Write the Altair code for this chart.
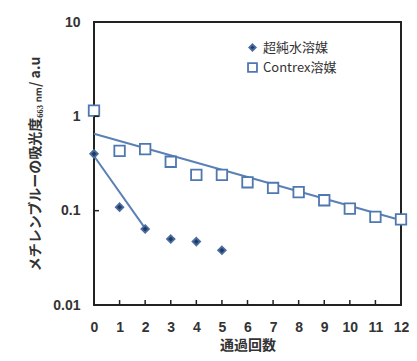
import altair as alt
import pandas as pd

passes = list(range(13))
contrex = [1.15, 0.43, 0.45, 0.33, 0.24, 0.24, 0.20, 0.174, 0.157, 0.129, 0.105, 0.086, 0.081]
pure_x = [0, 1, 2, 3, 4, 5]
pure = [0.40, 0.109, 0.064, 0.050, 0.047, 0.038]

fit_contrex_x = [0, 12]
fit_contrex_y = [0.655, 0.079]
fit_pure_x = [0, 2]
fit_pure_y = [0.38, 0.065]

x_ticks = list(range(1, 12))
y_ticks = [0.1, 1]

series_names = ["超純水溶媒", "Contrex溶媒"]

pts = pd.DataFrame(
    {"x": pure_x + passes,
     "y": pure + contrex,
     "s": [series_names[0]] * len(pure) + [series_names[1]] * len(contrex)}
)
fits = pd.DataFrame(
    {"x": fit_pure_x + fit_contrex_x,
     "y": fit_pure_y + fit_contrex_y,
     "s": ["p", "p", "c", "c"]}
)

W, H = 307, 283
font = "Liberation Sans"
jp = "Noto Sans CJK JP"

xs = alt.Scale(domain=[0, 12], nice=False)
ys = alt.Scale(type="log", domain=[0.01, 10], nice=False)

x_axis = alt.Axis(
    values=passes, ticks=False, domain=False, grid=False, labelFont=font,
    labelFontSize=14, labelFontWeight="bold", labelColor="#333333", labelPadding=15,
    labelOverlap=False, labelFlush=False, tickCount=13,
    title="通過回数", titleFont=jp, titleFontSize=14, titleFontWeight="bold",
    titleColor="#333333", titlePadding=4)
y_axis = alt.Axis(
    values=[0.01, 0.1, 1, 10], format="~g", ticks=False, domain=False, grid=False,
    labelFont=font, labelFontSize=14, labelFontWeight="bold", labelColor="#333333",
    labelPadding=14, labelFlush=False, labelOverlap=False,
    title="メチレンブルーの吸光度₆₆₃ ₙₘ/ a.u", titleFont=jp,
    titleFontSize=14, titleFontWeight="bold", titleColor="#333333", titlePadding=10)

x_enc = alt.X("x:Q", scale=xs, axis=x_axis)
y_enc = alt.Y("y:Q", scale=ys, axis=y_axis)

line_color = "#5b80b5"

diamond_path = "M0,-0.72L0.72,0L0,0.72L-0.72,0Z"
square_path = "M-1,-1L1,-1L1,1L-1,1Z"

lines = alt.Chart(fits).mark_line(color=line_color, strokeWidth=2).encode(
    x=x_enc, y=y_enc, detail="s:N")

points = alt.Chart(pts).mark_point(size=110, strokeWidth=1.8, opacity=1).encode(
    x=x_enc, y=y_enc,
    shape=alt.Shape("s:N", scale=alt.Scale(domain=series_names, range=[diamond_path, square_path]),
                    title=None),
    fill=alt.Fill("s:N", scale=alt.Scale(domain=series_names, range=["#1f3a66", "white"]),
                  title=None),
    stroke=alt.Stroke("s:N", scale=alt.Scale(domain=series_names, range=["#4a6c9e", "#4f77b0"]),
                      title=None),
)

xt = pd.DataFrame({"x": x_ticks})
yt = pd.DataFrame({"y": y_ticks})
xtick = alt.Chart(xt).mark_rule(color="#222222", strokeWidth=1.5).encode(
    x=x_enc, y=alt.value(H), y2=alt.value(H - 5))
ytick = alt.Chart(yt).mark_rule(color="#222222", strokeWidth=1.5).encode(
    y=y_enc, x=alt.value(0), x2=alt.value(5))

chart = alt.layer(lines, points, xtick, ytick).properties(
    width=W, height=H,
    autosize="none",
    padding={"left": 86, "top": 14, "right": 8, "bottom": 54},
).configure_view(stroke="#222222", strokeWidth=2).configure_legend(
    orient="none", legendX=152, legendY=19, labelFont=jp, labelFontSize=13,
    labelColor="#333333", symbolStrokeWidth=1.8, rowPadding=4, symbolSize=80,
    labelFontWeight="normal"
)

chart.save("out.html", embed_options={"renderer": "svg", "actions": False})
